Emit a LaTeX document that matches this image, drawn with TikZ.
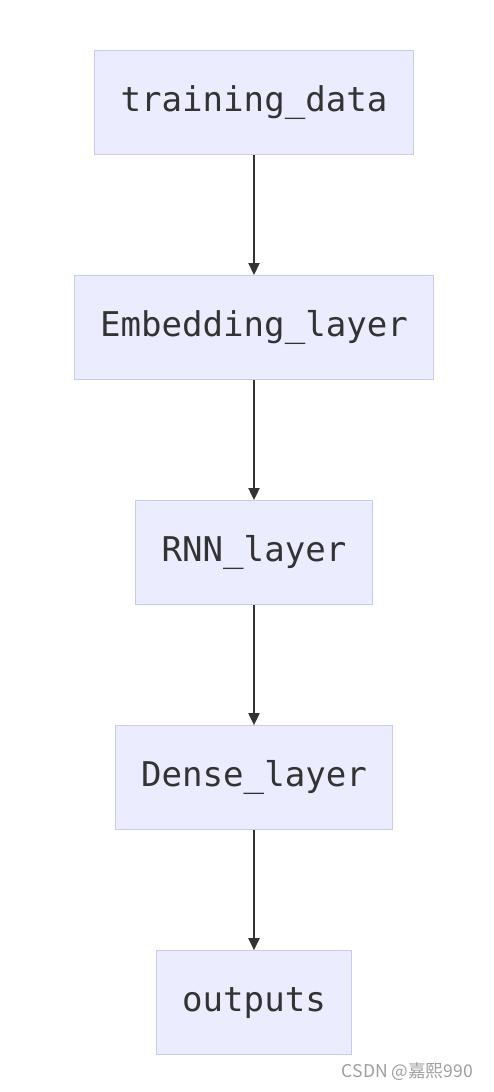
\documentclass[tikz,border=0pt]{standalone}
\usepackage{fontspec}
\setmonofont{DejaVu Sans Mono}
\newfontfamily\cjk{Noto Sans CJK SC}
\usetikzlibrary{positioning, arrows.meta}
\definecolor{boxfill}{HTML}{ECECFF}
\definecolor{boxline}{HTML}{CACAF0}
\definecolor{arline}{HTML}{333333}
\tikzstyle{box}=[draw=boxline, fill=boxfill, line width=0.6pt, align=center,
                 font=\ttfamily\fontsize{19.4}{23}\selectfont, text=black!80,
                 minimum height=2.08cm, inner xsep=0.52cm]
\tikzstyle{ar}=[-{Triangle[length=0.24cm, width=0.22cm]}, line width=1.1pt, draw=arline]

\begin{document}
\begin{tikzpicture}[node distance=2.40cm]
    \useasboundingbox (0,0) rectangle (9.88,-21.84);
    \node[box] (data) at (5.08,-2.05) {training\_data};
    \node[box, below=of data]  (emb)  {Embedding\_layer};
    \node[box, below=of emb]   (rnn)  {RNN\_layer};
    \node[box, below=of rnn]   (dense) {Dense\_layer};
    \node[box, below=of dense] (out)  {outputs};
    \draw[ar] (data)--(emb); \draw[ar] (emb)--(rnn);
    \draw[ar] (rnn)--(dense); \draw[ar] (dense)--(out);
    \node[font=\cjk\fontsize{10}{12}\selectfont, text=black!38, anchor=east]
      (mark) at (9.58,-21.44) {CSDN @嘉熙990};
  \end{tikzpicture}
\end{document}
